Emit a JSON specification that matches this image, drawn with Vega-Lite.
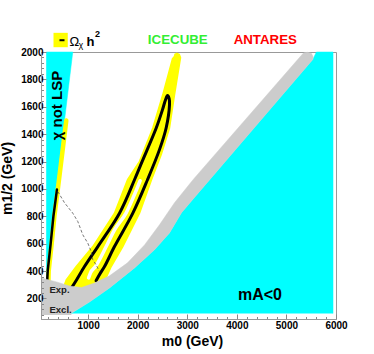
{
 "$schema": "https://vega.github.io/schema/vega-lite/v6.json",
 "width": 295, "height": 267,
 "autosize": "none",
 "padding": {"left": 41, "top": 52, "right": 38, "bottom": 35},
 "background": "white",
 "config": {"view": {"stroke": "#999999", "strokeWidth": 1}, "font": "Liberation Sans"},
 "datasets": {
  "cyanBig": [{"x":659,"y":90},{"x":1028,"y":174},{"x":1432,"y":277},{"x":1936,"y":423},{"x":2339,"y":555},{"x":2642,"y":679},{"x":2884,"y":826},{"x":3106,"y":921},{"x":5532,"y":1945},{"x":5605,"y":2000},{"x":5940,"y":2000},{"x":5940,"y":90}],
  "cyanStrip": [{"x":155,"y":2000},{"x":691,"y":2000},{"x":357,"y":999},{"x":288,"y":799},{"x":175,"y":401},{"x":155,"y":262}],
  "yellowOuter": [{"x":2708,"y":1958},{"x":2507,"y":1689},{"x":2305,"y":1445},{"x":2037,"y":1201},{"x":1795,"y":1067},{"x":1532,"y":823},{"x":1095,"y":579},{"x":760,"y":433},{"x":558,"y":335},{"x":484,"y":260},{"x":1300,"y":300},{"x":1466,"y":433},{"x":1700,"y":579},{"x":2037,"y":823},{"x":2279,"y":1067},{"x":2474,"y":1250},{"x":2642,"y":1445},{"x":2743,"y":1689},{"x":2864,"y":1958},{"x":2840,"y":1982},{"x":2790,"y":1990},{"x":2740,"y":1980}],
  "whiteCore": [{"x":2050,"y":1060},{"x":1976,"y":994},{"x":1765,"y":823},{"x":1533,"y":701},{"x":1365,"y":579},{"x":1149,"y":433},{"x":1048,"y":387},{"x":1010,"y":350}],
  "blackLoop": [{"x":665,"y":277},{"x":766,"y":335},{"x":927,"y":433},{"x":1196,"y":579},{"x":1633,"y":823},{"x":1936,"y":1067},{"x":2091,"y":1201},{"x":2374,"y":1445},{"x":2501,"y":1579},{"x":2560,"y":1650},{"x":2602,"y":1682},{"x":2635,"y":1660},{"x":2642,"y":1616},{"x":2574,"y":1445},{"x":2440,"y":1287},{"x":2198,"y":1067},{"x":1902,"y":823},{"x":1532,"y":579},{"x":1331,"y":433},{"x":1250,"y":387},{"x":1160,"y":330}],
  "stripYellow": [{"x":560,"y":1500},{"x":390,"y":1000},{"x":320,"y":800},{"x":265,"y":600},{"x":205,"y":400},{"x":200,"y":330}],
  "stripBlack": [{"x":372,"y":995},{"x":300,"y":800},{"x":245,"y":600},{"x":185,"y":400},{"x":175,"y":330}],
  "dashed": [{"x":389,"y":981},{"x":524,"y":899},{"x":691,"y":823},{"x":792,"y":762},{"x":893,"y":665},{"x":994,"y":604},{"x":1063,"y":542},{"x":1095,"y":482},{"x":1163,"y":445},{"x":1230,"y":396}],
  "grey": [{"x":60,"y":80},{"x":60,"y":350},{"x":363,"y":321},{"x":625,"y":291},{"x":867,"y":280},{"x":1129,"y":313},{"x":1432,"y":365},{"x":1795,"y":460},{"x":2138,"y":591},{"x":2440,"y":738},{"x":2743,"y":899},{"x":3116,"y":1067},{"x":5298,"y":1974},{"x":5345,"y":1993},{"x":5426,"y":1998},{"x":5506,"y":1989},{"x":5536,"y":1967},{"x":5532,"y":1945},{"x":3106,"y":921},{"x":2884,"y":826},{"x":2642,"y":679},{"x":2339,"y":555},{"x":1936,"y":423},{"x":1432,"y":277},{"x":1028,"y":174},{"x":659,"y":92},{"x":659,"y":80}],
  "chiText": [{"x":369,"y":1609,"t":"χ not LSP"}],
  "expText": [{"x":221,"y":237,"t":"Exp."},{"x":221,"y":92,"t":"Excl."}],
  "mAText": [{"x":4467,"y":189,"t":"mA<0"}],
  "icecube": [{"x":2809,"y":2062,"t":"ICECUBE"}],
  "antares": [{"x":4574,"y":2062,"t":"ANTARES"}],
  "omega": [{"x":625,"y":2045,"t":"Ω"}],
  "chiSub": [{"x":806,"y":2027,"t":"χ"}],
  "hText": [{"x":968,"y":2045,"t":"h"}],
  "twoSup": [{"x":1139,"y":2106,"t":"2"}],
  "swatch": [{"x":302,"x2":590,"y":2035,"y2":2140}],
  "swatchDash": [{"x":423,"x2":524,"y":2086}]
 },
 "encoding": {
  "x": {"field": "x", "type": "quantitative", "scale": {"domain": [50, 6000], "nice": false, "zero": false},
   "axis": {"title": "m0 (GeV)", "values": [200,400,600,800,1000,1200,1400,1600,1800,2000,2200,2400,2600,2800,3000,3200,3400,3600,3800,4000,4200,4400,4600,4800,5000,5200,5400,5600,5800,6000],
    "format": "d", "labelExpr": "datum.value % 1000 === 0 ? datum.label : ''",
    "tickSize": {"condition": {"test": "datum.value % 1000 === 0", "value": -5}, "value": -2.5},
    "tickColor": "#888888", "domainColor": "#999999", "grid": false,
    "labelFont": "Liberation Sans", "labelFontWeight": "bold", "labelFontSize": 10, "labelColor": "black", "labelPadding": 6,
    "labelFlush": false, "labelOverlap": false,
    "titleFont": "Liberation Sans", "titleFontWeight": "bold", "titleFontSize": 14, "titleColor": "black",
    "titleX": 151, "titleY": 26, "titleAlign": "center", "titleBaseline": "alphabetic", "zindex": 1}},
  "y": {"field": "y", "type": "quantitative", "scale": {"domain": [50, 2000], "nice": false, "zero": false},
   "axis": {"title": "m1/2 (GeV)", "values": [80,120,160,200,240,280,320,360,400,440,480,520,560,600,640,680,720,760,800,840,880,920,960,1000,1040,1080,1120,1160,1200,1240,1280,1320,1360,1400,1440,1480,1520,1560,1600,1640,1680,1720,1760,1800,1840,1880,1920,1960,2000],
    "format": "d", "labelExpr": "datum.value % 200 === 0 ? datum.label : ''",
    "tickSize": {"condition": {"test": "datum.value % 200 === 0", "value": -5}, "value": -2.5},
    "tickColor": "#888888", "domainColor": "#999999", "grid": false,
    "labelFont": "Liberation Sans", "labelFontWeight": "bold", "labelFontSize": 10, "labelColor": "black", "labelPadding": 3,
    "labelFlush": false, "labelOverlap": false,
    "titleFont": "Liberation Sans", "titleFontWeight": "bold", "titleFontSize": 14, "titleColor": "black",
    "titleX": -34, "titleY": 126, "titleAngle": 270, "titleAlign": "center", "titleBaseline": "middle", "zindex": 1}}
 },
 "layer": [
  {"data": {"name": "cyanBig"}, "mark": {"type": "line", "fill": "#00ffff", "stroke": "#00ffff", "strokeWidth": 0.5}, "encoding": {"order": {"value": null}}},
  {"data": {"name": "cyanStrip"}, "mark": {"type": "line", "fill": "#00ffff", "stroke": "#00ffff", "strokeWidth": 0.5}, "encoding": {"order": {"value": null}}},
  {"data": {"name": "yellowOuter"}, "mark": {"type": "line", "fill": "#ffff00", "stroke": "#ffff00", "strokeWidth": 1.5, "strokeJoin": "round"}, "encoding": {"order": {"value": null}}},
  {"data": {"name": "whiteCore"}, "mark": {"type": "line", "stroke": "#ffffff", "strokeWidth": 3.5, "strokeCap": "round", "interpolate": "monotone"}, "encoding": {"order": {"value": null}}},
  {"data": {"name": "blackLoop"}, "mark": {"type": "line", "stroke": "#000000", "strokeWidth": 3, "strokeCap": "round", "strokeJoin": "round", "interpolate": "catmull-rom"}, "encoding": {"order": {"value": null}}},
  {"data": {"name": "stripYellow"}, "mark": {"type": "line", "stroke": "#ffff00", "strokeWidth": 4.5, "strokeCap": "round"}, "encoding": {"order": {"value": null}}},
  {"data": {"name": "stripBlack"}, "mark": {"type": "line", "stroke": "#000000", "strokeWidth": 2.5, "strokeCap": "round"}, "encoding": {"order": {"value": null}}},
  {"data": {"name": "dashed"}, "mark": {"type": "line", "stroke": "#555555", "strokeWidth": 0.8, "strokeDash": [3, 2]}, "encoding": {"order": {"value": null}}},
  {"data": {"name": "grey"}, "mark": {"type": "line", "fill": "#cccccc", "stroke": "#cccccc", "strokeWidth": 0.5}, "encoding": {"order": {"value": null}}},
  {"data": {"name": "chiText"}, "mark": {"type": "text", "angle": 270, "align": "center", "baseline": "middle", "font": "Liberation Sans", "fontWeight": "bold", "fontSize": 15, "color": "black"}, "encoding": {"text": {"field": "t"}}},
  {"data": {"name": "expText"}, "mark": {"type": "text", "align": "left", "baseline": "alphabetic", "font": "Liberation Sans", "fontWeight": "bold", "fontSize": 9.5, "color": "#222222"}, "encoding": {"text": {"field": "t"}}},
  {"data": {"name": "mAText"}, "mark": {"type": "text", "align": "center", "baseline": "alphabetic", "font": "Liberation Sans", "fontWeight": "bold", "fontSize": 16, "color": "black"}, "encoding": {"text": {"field": "t"}}},
  {"data": {"name": "icecube"}, "mark": {"type": "text", "align": "center", "baseline": "alphabetic", "font": "Liberation Sans", "fontWeight": "bold", "fontSize": 13.3, "color": "#33ee33"}, "encoding": {"text": {"field": "t"}}},
  {"data": {"name": "antares"}, "mark": {"type": "text", "align": "center", "baseline": "alphabetic", "font": "Liberation Sans", "fontWeight": "bold", "fontSize": 13.3, "color": "#ff0000"}, "encoding": {"text": {"field": "t"}}},
  {"data": {"name": "swatch"}, "mark": {"type": "rect", "color": "#ffff00"}, "encoding": {"x2": {"field": "x2"}, "y2": {"field": "y2"}}},
  {"data": {"name": "swatchDash"}, "mark": {"type": "rule", "color": "#000000", "strokeWidth": 2}, "encoding": {"x2": {"field": "x2"}}},
  {"data": {"name": "omega"}, "mark": {"type": "text", "align": "left", "baseline": "alphabetic", "font": "Liberation Sans", "fontSize": 13, "color": "black"}, "encoding": {"text": {"field": "t"}}},
  {"data": {"name": "chiSub"}, "mark": {"type": "text", "align": "left", "baseline": "alphabetic", "font": "Liberation Sans", "fontSize": 9, "color": "black"}, "encoding": {"text": {"field": "t"}}},
  {"data": {"name": "hText"}, "mark": {"type": "text", "align": "left", "baseline": "alphabetic", "font": "Liberation Sans", "fontWeight": "bold", "fontSize": 13, "color": "black"}, "encoding": {"text": {"field": "t"}}},
  {"data": {"name": "twoSup"}, "mark": {"type": "text", "align": "left", "baseline": "alphabetic", "font": "Liberation Sans", "fontWeight": "bold", "fontSize": 9, "color": "black"}, "encoding": {"text": {"field": "t"}}}
 ]
}
